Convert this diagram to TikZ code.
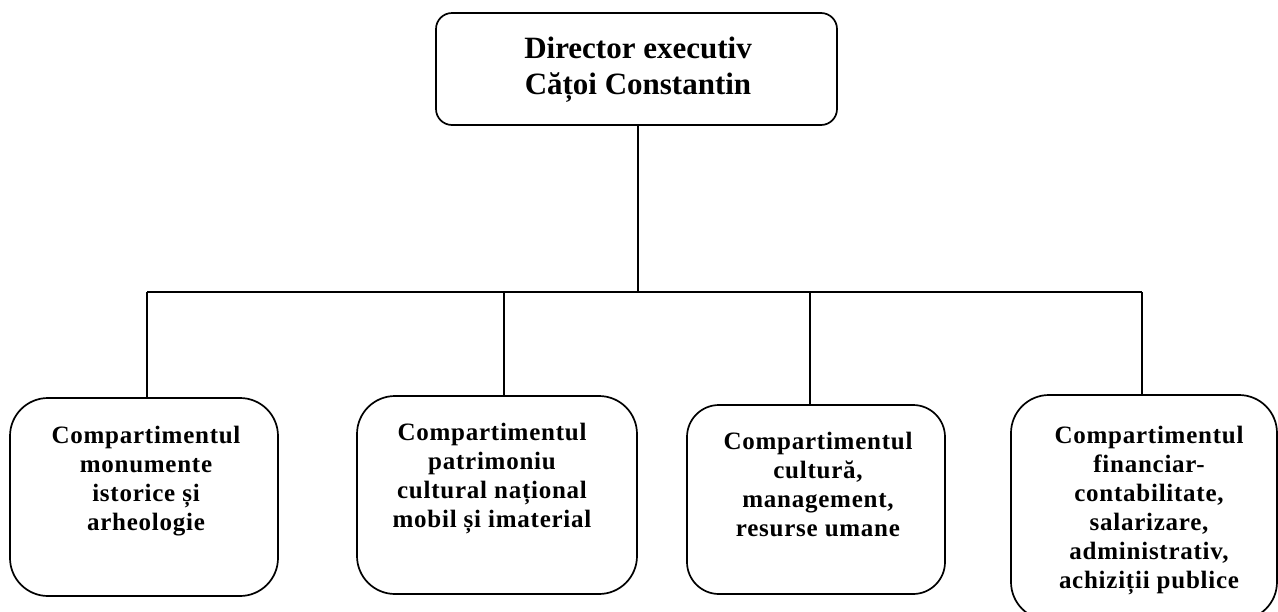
\documentclass[tikz,border=0pt]{standalone}
\usepackage{fontspec}
\setmainfont{Liberation Serif}
\newfontfamily\topfont{Liberation Serif}
\newfontfamily\subfont[LetterSpace=3]{Liberation Serif}
\begin{document}
\begin{tikzpicture}[x=1pt,y=-1pt,
  line width=1.7pt,
  topbox/.style={draw, rounded corners=16pt, inner sep=0pt},
  unitbox/.style={draw, rounded corners=38pt, inner sep=0pt},
  toptext/.style={align=center, inner sep=0pt, font=\topfont\bfseries\fontsize{31}{36}\selectfont},
  unittext/.style={align=center, inner sep=0pt, anchor=north, font=\subfont\bfseries\fontsize{25}{29}\selectfont},
  link/.style={line width=1.7pt}
]
\useasboundingbox (0,0) rectangle (1278,611);
\begin{scope}
\clip (0,0) rectangle (1278,611);
% top box
\node[topbox, minimum width=401pt, minimum height=112pt] (dir) at (636.5,69) {};
\node[toptext] (dirt) at (638,69.5) {Director executiv\\Cățoi Constantin};
% units
\node[unitbox, minimum width=268pt, minimum height=198pt] (b1) at (144,497) {};
\node[unitbox, minimum width=280pt, minimum height=198pt] (b2) at (497,495) {};
\node[unitbox, minimum width=258pt, minimum height=189pt, rounded corners=32pt] (b3) at (816,499.5) {};
\node[unitbox, minimum width=266pt, minimum height=225pt] (b4) at (1144,507.5) {};
\node[unittext] (t1) at (146,425) {Compartimentul\\monumente\\istorice și\\arheologie};
\node[unittext] (t2) at (492,422) {Compartimentul\\patrimoniu\\cultural național\\mobil și imaterial};
\node[unittext] (t3) at (818,431) {Compartimentul\\cultură,\\management,\\resurse umane};
\node[unittext] (t4) at (1149,425) {Compartimentul\\financiar-\\contabilitate,\\salarizare,\\administrativ,\\achiziții publice};
% connectors
\coordinate (busL) at (147,292);
\coordinate (bus2) at (504,292);
\coordinate (bus3) at (810,292);
\coordinate (busR) at (1142,292);
\draw[link] (dir.south -| dirt.south) -- (dirt.south |- busL);
\draw[link] (busL) -- (busR);
\draw[link] (busL) -- (busL |- b1.north);
\draw[link] (bus2) -- (bus2 |- b2.north);
\draw[link] (bus3) -- (bus3 |- b3.north);
\draw[link] (busR) -- (busR |- b4.north);
\end{scope}
\end{tikzpicture}
\end{document}
